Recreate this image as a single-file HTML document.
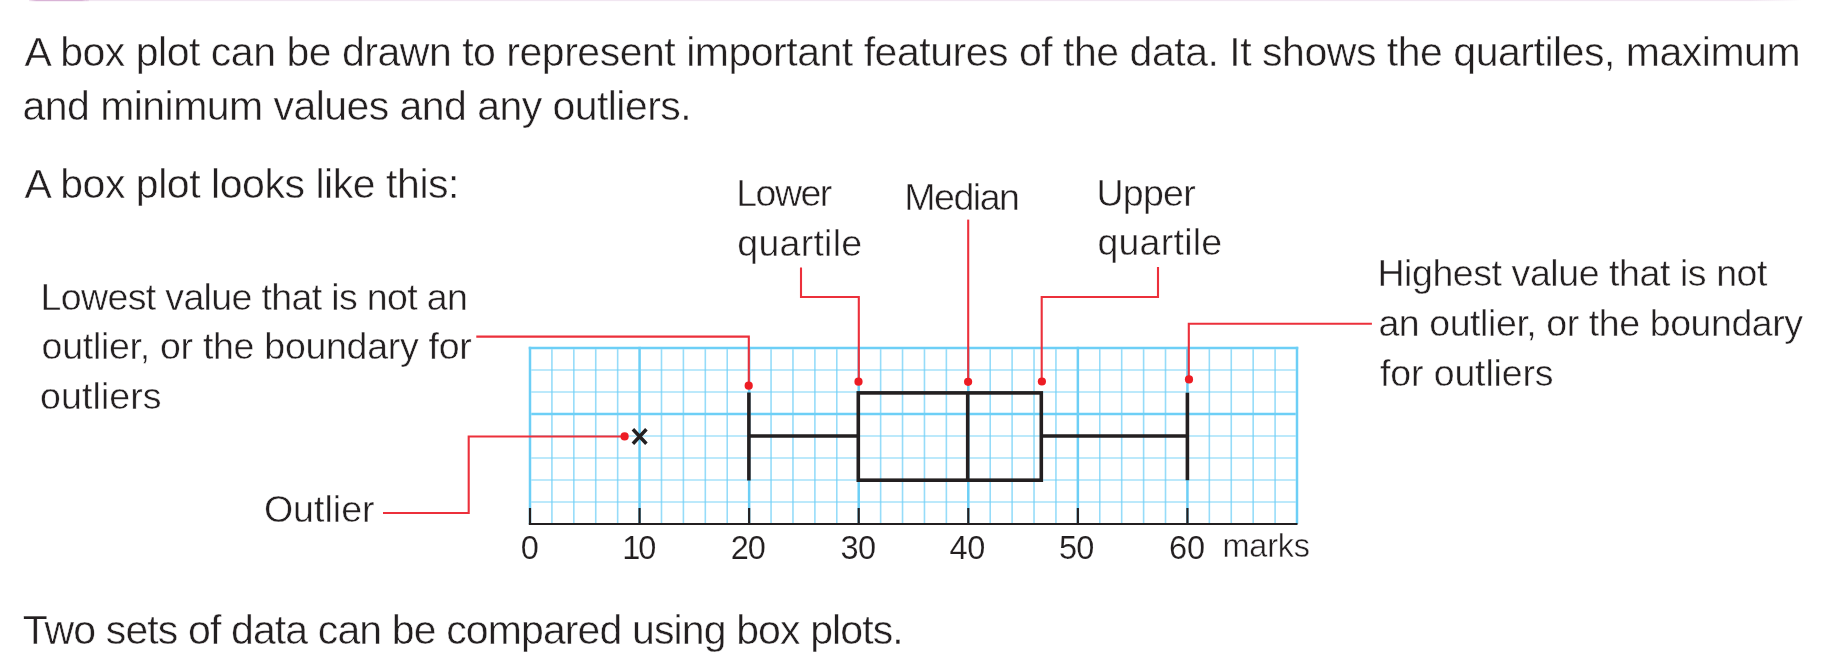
<!DOCTYPE html>
<html><head><meta charset="utf-8"><style>
html,body{margin:0;padding:0;background:#ffffff;width:1825px;height:663px;overflow:hidden}
svg{display:block;will-change:transform}
text{font-family:"Liberation Sans",sans-serif;fill:#231f20;stroke:#fff;stroke-width:0.45px}
#tx{opacity:0.999}
text.dg{stroke-width:0.15px}
</style></head><body>
<svg width="1825" height="663" viewBox="0 0 1825 663">
<rect x="0" y="0" width="1825" height="663" fill="#ffffff"/>
<defs><linearGradient id="pb" x1="0" x2="1" y1="0" y2="0"><stop offset="0" stop-color="#d9b3d6" stop-opacity="0.3"/><stop offset="0.12" stop-color="#d9b3d6"/><stop offset="0.88" stop-color="#d9b3d6"/><stop offset="1" stop-color="#d9b3d6" stop-opacity="0.3"/></linearGradient>
<linearGradient id="pl" x1="0" x2="1" y1="0" y2="0"><stop offset="0" stop-color="#f1e6f1"/><stop offset="0.97" stop-color="#f1e6f1"/><stop offset="1" stop-color="#f1e6f1" stop-opacity="0"/></linearGradient></defs>
<rect x="86" y="0" width="1716" height="1.1" fill="url(#pl)"/>
<rect x="29" y="0" width="60" height="1.2" fill="url(#pb)"/>
<line x1="530.00" y1="346.8" x2="530.00" y2="524.0" stroke="#6dcff6" stroke-width="2.5" stroke-opacity="1"/>
<line x1="551.91" y1="349.2" x2="551.91" y2="524.0" stroke="#6dcff6" stroke-width="1.6" stroke-opacity="0.72"/>
<line x1="573.83" y1="349.2" x2="573.83" y2="524.0" stroke="#6dcff6" stroke-width="1.6" stroke-opacity="0.72"/>
<line x1="595.74" y1="349.2" x2="595.74" y2="524.0" stroke="#6dcff6" stroke-width="1.6" stroke-opacity="0.72"/>
<line x1="617.66" y1="349.2" x2="617.66" y2="524.0" stroke="#6dcff6" stroke-width="1.6" stroke-opacity="0.72"/>
<line x1="639.57" y1="346.8" x2="639.57" y2="524.0" stroke="#6dcff6" stroke-width="2.5" stroke-opacity="1"/>
<line x1="661.49" y1="349.2" x2="661.49" y2="524.0" stroke="#6dcff6" stroke-width="1.6" stroke-opacity="0.72"/>
<line x1="683.40" y1="349.2" x2="683.40" y2="524.0" stroke="#6dcff6" stroke-width="1.6" stroke-opacity="0.72"/>
<line x1="705.31" y1="349.2" x2="705.31" y2="524.0" stroke="#6dcff6" stroke-width="1.6" stroke-opacity="0.72"/>
<line x1="727.23" y1="349.2" x2="727.23" y2="524.0" stroke="#6dcff6" stroke-width="1.6" stroke-opacity="0.72"/>
<line x1="749.14" y1="346.8" x2="749.14" y2="524.0" stroke="#6dcff6" stroke-width="2.5" stroke-opacity="1"/>
<line x1="771.06" y1="349.2" x2="771.06" y2="524.0" stroke="#6dcff6" stroke-width="1.6" stroke-opacity="0.72"/>
<line x1="792.97" y1="349.2" x2="792.97" y2="524.0" stroke="#6dcff6" stroke-width="1.6" stroke-opacity="0.72"/>
<line x1="814.89" y1="349.2" x2="814.89" y2="524.0" stroke="#6dcff6" stroke-width="1.6" stroke-opacity="0.72"/>
<line x1="836.80" y1="349.2" x2="836.80" y2="524.0" stroke="#6dcff6" stroke-width="1.6" stroke-opacity="0.72"/>
<line x1="858.71" y1="346.8" x2="858.71" y2="524.0" stroke="#6dcff6" stroke-width="2.5" stroke-opacity="1"/>
<line x1="880.63" y1="349.2" x2="880.63" y2="524.0" stroke="#6dcff6" stroke-width="1.6" stroke-opacity="0.72"/>
<line x1="902.54" y1="349.2" x2="902.54" y2="524.0" stroke="#6dcff6" stroke-width="1.6" stroke-opacity="0.72"/>
<line x1="924.46" y1="349.2" x2="924.46" y2="524.0" stroke="#6dcff6" stroke-width="1.6" stroke-opacity="0.72"/>
<line x1="946.37" y1="349.2" x2="946.37" y2="524.0" stroke="#6dcff6" stroke-width="1.6" stroke-opacity="0.72"/>
<line x1="968.29" y1="346.8" x2="968.29" y2="524.0" stroke="#6dcff6" stroke-width="2.5" stroke-opacity="1"/>
<line x1="990.20" y1="349.2" x2="990.20" y2="524.0" stroke="#6dcff6" stroke-width="1.6" stroke-opacity="0.72"/>
<line x1="1012.11" y1="349.2" x2="1012.11" y2="524.0" stroke="#6dcff6" stroke-width="1.6" stroke-opacity="0.72"/>
<line x1="1034.03" y1="349.2" x2="1034.03" y2="524.0" stroke="#6dcff6" stroke-width="1.6" stroke-opacity="0.72"/>
<line x1="1055.94" y1="349.2" x2="1055.94" y2="524.0" stroke="#6dcff6" stroke-width="1.6" stroke-opacity="0.72"/>
<line x1="1077.86" y1="346.8" x2="1077.86" y2="524.0" stroke="#6dcff6" stroke-width="2.5" stroke-opacity="1"/>
<line x1="1099.77" y1="349.2" x2="1099.77" y2="524.0" stroke="#6dcff6" stroke-width="1.6" stroke-opacity="0.72"/>
<line x1="1121.69" y1="349.2" x2="1121.69" y2="524.0" stroke="#6dcff6" stroke-width="1.6" stroke-opacity="0.72"/>
<line x1="1143.60" y1="349.2" x2="1143.60" y2="524.0" stroke="#6dcff6" stroke-width="1.6" stroke-opacity="0.72"/>
<line x1="1165.51" y1="349.2" x2="1165.51" y2="524.0" stroke="#6dcff6" stroke-width="1.6" stroke-opacity="0.72"/>
<line x1="1187.43" y1="346.8" x2="1187.43" y2="524.0" stroke="#6dcff6" stroke-width="2.5" stroke-opacity="1"/>
<line x1="1209.34" y1="349.2" x2="1209.34" y2="524.0" stroke="#6dcff6" stroke-width="1.6" stroke-opacity="0.72"/>
<line x1="1231.26" y1="349.2" x2="1231.26" y2="524.0" stroke="#6dcff6" stroke-width="1.6" stroke-opacity="0.72"/>
<line x1="1253.17" y1="349.2" x2="1253.17" y2="524.0" stroke="#6dcff6" stroke-width="1.6" stroke-opacity="0.72"/>
<line x1="1275.09" y1="349.2" x2="1275.09" y2="524.0" stroke="#6dcff6" stroke-width="1.6" stroke-opacity="0.72"/>
<line x1="1297.00" y1="346.8" x2="1297.00" y2="524.0" stroke="#6dcff6" stroke-width="2.5" stroke-opacity="1"/>
<line x1="528.75" y1="348.00" x2="1298.25" y2="348.00" stroke="#6dcff6" stroke-width="2.5" stroke-opacity="1"/>
<line x1="531.25" y1="370.00" x2="1295.75" y2="370.00" stroke="#6dcff6" stroke-width="1.6" stroke-opacity="0.62"/>
<line x1="531.25" y1="392.00" x2="1295.75" y2="392.00" stroke="#6dcff6" stroke-width="1.6" stroke-opacity="0.62"/>
<line x1="531.25" y1="414.00" x2="1295.75" y2="414.00" stroke="#6dcff6" stroke-width="2.5" stroke-opacity="1"/>
<line x1="531.25" y1="436.00" x2="1295.75" y2="436.00" stroke="#6dcff6" stroke-width="1.6" stroke-opacity="0.62"/>
<line x1="531.25" y1="458.00" x2="1295.75" y2="458.00" stroke="#6dcff6" stroke-width="1.6" stroke-opacity="0.62"/>
<line x1="531.25" y1="480.00" x2="1295.75" y2="480.00" stroke="#6dcff6" stroke-width="1.6" stroke-opacity="0.62"/>
<line x1="531.25" y1="502.00" x2="1295.75" y2="502.00" stroke="#6dcff6" stroke-width="1.6" stroke-opacity="0.62"/>
<line x1="528.8" y1="524.0" x2="1297.5" y2="524.0" stroke="#231f20" stroke-width="2.2"/>
<line x1="530.00" y1="508" x2="530.00" y2="523" stroke="#231f20" stroke-width="2.2"/>
<line x1="639.57" y1="508" x2="639.57" y2="523" stroke="#231f20" stroke-width="2.2"/>
<line x1="749.14" y1="508" x2="749.14" y2="523" stroke="#231f20" stroke-width="2.2"/>
<line x1="858.71" y1="508" x2="858.71" y2="523" stroke="#231f20" stroke-width="2.2"/>
<line x1="968.29" y1="508" x2="968.29" y2="523" stroke="#231f20" stroke-width="2.2"/>
<line x1="1077.86" y1="508" x2="1077.86" y2="523" stroke="#231f20" stroke-width="2.2"/>
<line x1="1187.43" y1="508" x2="1187.43" y2="523" stroke="#231f20" stroke-width="2.2"/>
<line x1="748.9" y1="392.5" x2="748.9" y2="480.5" stroke="#231f20" stroke-width="3.6"/>
<line x1="748.9" y1="436" x2="858.3" y2="436" stroke="#231f20" stroke-width="3.6"/>
<rect x="858.3" y="392.9" width="183" height="87.3" fill="none" stroke="#231f20" stroke-width="3.6"/>
<line x1="967.7" y1="392.9" x2="967.7" y2="480.2" stroke="#231f20" stroke-width="3.6"/>
<line x1="1041.3" y1="436" x2="1187.4" y2="436" stroke="#231f20" stroke-width="3.6"/>
<line x1="1187.4" y1="392.7" x2="1187.4" y2="480.2" stroke="#231f20" stroke-width="3.6"/>
<path d="M632.9,429.3 L646.4,443.8 M646.4,429.3 L632.9,443.8" stroke="#231f20" stroke-width="3.5" fill="none"/>
<path d="M476.3,336.6 H748.8 V385.7" stroke="#ec303b" stroke-width="2.1" fill="none"/>
<path d="M801,267.4 V297 H858.8 V381.7" stroke="#ec303b" stroke-width="2.1" fill="none"/>
<path d="M968.2,219.6 V381.5" stroke="#ec303b" stroke-width="2.1" fill="none"/>
<path d="M1158,267 V297 H1041.7 V381.5" stroke="#ec303b" stroke-width="2.1" fill="none"/>
<path d="M1371.9,323.8 H1188.8 V379.4" stroke="#ec303b" stroke-width="2.1" fill="none"/>
<path d="M383,513 H468.7 V436.5 H624.6" stroke="#ec303b" stroke-width="2.1" fill="none"/>
<circle cx="748.7" cy="385.7" r="4.1" fill="#ed1c24"/>
<circle cx="858.5" cy="381.7" r="4.1" fill="#ed1c24"/>
<circle cx="968.1" cy="381.8" r="4.1" fill="#ed1c24"/>
<circle cx="1041.9" cy="381.5" r="4.1" fill="#ed1c24"/>
<circle cx="1189" cy="379.4" r="4.1" fill="#ed1c24"/>
<circle cx="624.6" cy="436.4" r="4.1" fill="#ed1c24"/>
<g id="tx"><text x="24.60" y="66.00" font-size="41" textLength="1775.99" lengthAdjust="spacing">A box plot can be drawn to represent important features of the data. It shows the quartiles, maximum</text>
<text x="22.60" y="120.40" font-size="41" textLength="669.03" lengthAdjust="spacing">and minimum values and any outliers.</text>
<text x="24.60" y="197.90" font-size="41" textLength="434.89" lengthAdjust="spacing">A box plot looks like this:</text>
<text x="22.70" y="644.10" font-size="41" textLength="881.05" lengthAdjust="spacing">Two sets of data can be compared using box plots.</text>
<text x="736.30" y="205.50" font-size="37.5" textLength="95.94" lengthAdjust="spacing">Lower</text>
<text x="737.30" y="256.00" font-size="37.5" textLength="124.80" lengthAdjust="spacing">quartile</text>
<text x="904.30" y="209.50" font-size="37.5" textLength="115.60" lengthAdjust="spacing">Median</text>
<text x="1096.40" y="205.70" font-size="37.5" textLength="99.34" lengthAdjust="spacing">Upper</text>
<text x="1097.40" y="255.30" font-size="37.5" textLength="124.80" lengthAdjust="spacing">quartile</text>
<text x="40.60" y="309.50" font-size="37.5" textLength="427.23" lengthAdjust="spacing">Lowest value that is not an</text>
<text x="41.60" y="359.30" font-size="37.5" textLength="430.18" lengthAdjust="spacing">outlier, or the boundary for</text>
<text x="40.10" y="409.30" font-size="37.5" textLength="121.49" lengthAdjust="spacing">outliers</text>
<text x="1377.40" y="285.90" font-size="37.5" textLength="390.03" lengthAdjust="spacing">Highest value that is not</text>
<text x="1378.40" y="335.80" font-size="37.5" textLength="424.72" lengthAdjust="spacing">an outlier, or the boundary</text>
<text x="1380.10" y="386.40" font-size="37.5" textLength="173.48" lengthAdjust="spacing">for outliers</text>
<text x="263.90" y="522.30" font-size="37.5" textLength="110.65" lengthAdjust="spacing">Outlier</text>
<text x="520.80" y="559.10" font-size="32.5" textLength="18.08" lengthAdjust="spacing" class="dg">0</text>
<text x="622.20" y="559.10" font-size="32.5" textLength="34.16" lengthAdjust="spacing" class="dg">10</text>
<text x="730.70" y="559.10" font-size="32.5" textLength="35.16" lengthAdjust="spacing" class="dg">20</text>
<text x="840.50" y="559.10" font-size="32.5" textLength="35.56" lengthAdjust="spacing" class="dg">30</text>
<text x="949.50" y="559.10" font-size="32.5" textLength="35.76" lengthAdjust="spacing" class="dg">40</text>
<text x="1059.10" y="559.10" font-size="32.5" textLength="35.16" lengthAdjust="spacing" class="dg">50</text>
<text x="1169.10" y="559.10" font-size="32.5" textLength="35.96" lengthAdjust="spacing" class="dg">60</text>
<text x="1222.50" y="557.00" font-size="32.5" textLength="87.48" lengthAdjust="spacing">marks</text></g>
</svg>
</body></html>
